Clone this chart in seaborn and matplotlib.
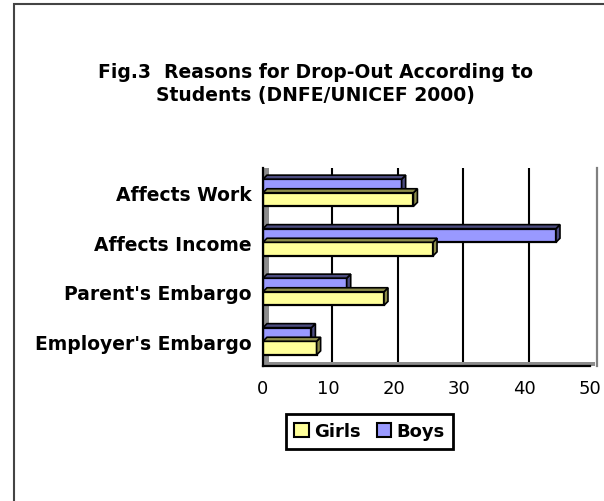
import numpy as np
import pandas as pd
import matplotlib
matplotlib.use("Agg")
import matplotlib.pyplot as plt
import matplotlib.transforms as mtransforms
from matplotlib.patches import Polygon, Rectangle
import seaborn as sns

# Data
categories = ["Affects Work", "Affects Income", "Parent's Embargo", "Employer's Embargo"]
girls = [23.0, 26.0, 18.5, 8.2]
boys = [21.2, 44.8, 12.8, 7.4]
series_names = ["Girls", "Boys"]
series_colors = {"Girls": "#FFFF99", "Boys": "#9999FF"}
side_colors = {"Girls": "#8C8C4A", "Boys": "#4C4C80"}
x_ticks = [0, 10, 20, 30, 40, 50]

df = pd.DataFrame({
    "reason": categories * 2,
    "series": ["Girls"] * len(categories) + ["Boys"] * len(categories),
    "value": girls + boys,
})

sns.set_style("white")
plt.rcParams["font.family"] = ["DejaVu Sans"]
plt.rcParams["text.color"] = "black"
plt.rcParams["xtick.color"] = "black"
plt.rcParams["ytick.color"] = "black"
plt.rcParams["axes.labelcolor"] = "black"
FS = 13
FS_BIG = 13.5

fig = plt.figure(figsize=(6.04, 5.02), dpi=100)
W, H = 604, 502
ax = fig.add_axes([263 / W, 1 - 367 / H, 327 / W, 198 / H])

sns.barplot(data=df, y="reason", x="value", hue="series", order=categories,
            hue_order=["Boys", "Girls"], palette=series_colors, saturation=1,
            width=0.55, edgecolor="black", linewidth=1.6, legend=False, ax=ax, zorder=2)

ax.set_xlim(0, 50)
ax.set_ylim(len(categories) - 0.5, -0.5)
ax.set_xticks(x_ticks)
ax.set_xticklabels([str(t) for t in x_ticks], fontsize=FS)
ax.set_yticks(np.arange(-0.5, len(categories) - 0.5, 1.0), minor=True)
ax.tick_params(axis="y", which="minor", length=4, width=1.5, color="black", direction="out")
ax.tick_params(axis="x", length=4, width=1.5, color="black", direction="out", pad=5)
ax.set_xlabel("")
ax.set_ylabel("")

for side in ["left", "bottom"]:
    ax.spines[side].set_color("black")
    ax.spines[side].set_linewidth(1.6)
ax.spines["top"].set_visible(False)
ax.spines["right"].set_color("#808080")
ax.spines["right"].set_linewidth(1.6)
ax.spines["right"].set_position(("outward", 5))

# back-wall gridlines, shifted a few pixels for the 3D look
shift = mtransforms.ScaledTranslation(4 / 100, 0, fig.dpi_scale_trans)
for t in x_ticks[1:-1]:
    ax.plot([t, t], [0, 1], color="black", lw=1.5, zorder=0.5,
            transform=ax.get_xaxis_transform() + shift)

# gray left wall and floor
ax.add_patch(Rectangle((0, 0), 6 / 327, 1, transform=ax.transAxes,
                       facecolor="#8C8C8C", edgecolor="none", zorder=0.6))
ax.add_patch(Rectangle((0, 0), 1 + 5 / 327, 4 / 198, transform=ax.transAxes,
                       facecolor="#8C8C8C", edgecolor="none", zorder=0.6, clip_on=False))

# category labels (set last so nothing resets them)
ax.set_yticks(range(len(categories)))
ax.set_yticklabels(categories, fontsize=FS_BIG, fontweight="bold")
ax.tick_params(axis="y", which="major", length=0, pad=8)

# 3D side and top faces derived from the drawn bars
fig.canvas.draw()
d = 4
bar_patches = [p for p in ax.patches if p.get_width() > 0 and p.get_height() < 1][:2 * len(categories)]
for patch, name in zip(bar_patches, ["Boys"] * len(categories) + ["Girls"] * len(categories)):
    bb = patch.get_window_extent()
    x0, y0, x1, y1 = bb.x0, bb.y0, bb.x1, bb.y1
    side = Polygon([(x1, y0), (x1 + d, y0 + d), (x1 + d, y1 + d), (x1, y1)],
                   closed=True, facecolor=side_colors[name], edgecolor="black",
                   lw=1.2, transform=mtransforms.IdentityTransform(), zorder=1.5, clip_on=False)
    top = Polygon([(x0, y1), (x0 + d, y1 + d), (x1 + d, y1 + d), (x1, y1)],
                  closed=True, facecolor=side_colors[name], edgecolor="black",
                  lw=1.2, transform=mtransforms.IdentityTransform(), zorder=1.5, clip_on=False)
    fig.add_artist(side)
    fig.add_artist(top)

for lab in ax.get_yticklabels():
    lab.set_fontweight("bold")
    lab.set_fontsize(FS_BIG)
    lab.set_color("black")

# title
fig.text(315 / W, 1 - 84 / H, "Fig.3  Reasons for Drop-Out According to\nStudents (DNFE/UNICEF 2000)",
         ha="center", va="center", fontsize=FS_BIG, fontweight="bold", linespacing=1.3,
         color="black")

# legend
handles = [Rectangle((0, 0), 1, 1, facecolor=series_colors[n], edgecolor="black", lw=1.5)
           for n in series_names]
leg = fig.legend(handles, series_names, loc="center",
                 bbox_to_anchor=(369.5 / W, 1 - 432.5 / H), ncol=2,
                 prop={"size": FS, "weight": "bold"}, handlelength=0.8, handleheight=0.8,
                 handletextpad=0.3, columnspacing=0.9, borderpad=0.45, borderaxespad=0,
                 fancybox=False, framealpha=1, edgecolor="black")
leg.get_frame().set_linewidth(2)
for txt in leg.get_texts():
    txt.set_color("black")

# outer chart frame
fig.add_artist(Rectangle((14 / W, -0.1), 1.2, 1 - 5 / H + 0.1, transform=fig.transFigure,
                         fill=False, edgecolor="#444444", lw=1.5, clip_on=False))

fig.savefig("out.png", dpi=100)
